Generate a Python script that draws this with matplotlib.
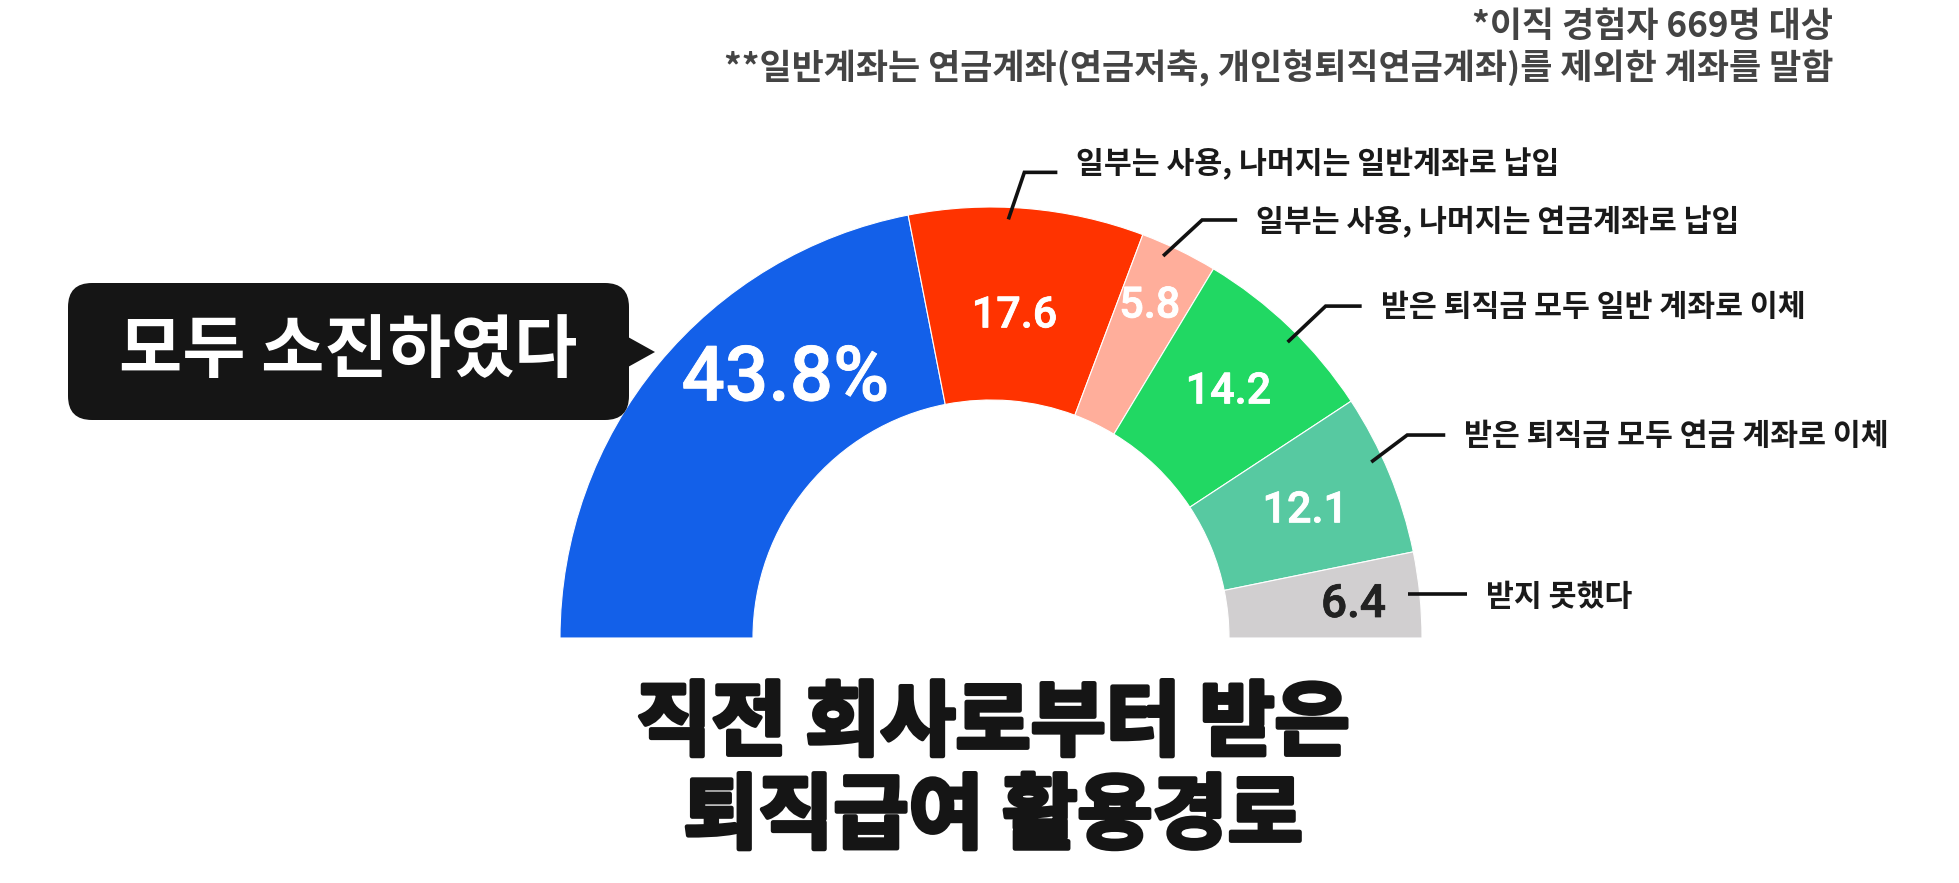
import matplotlib
matplotlib.use('Agg')
import matplotlib.pyplot as plt
import matplotlib.patheffects as pe
import numpy as np
from matplotlib.patches import FancyBboxPatch, Polygon

# ---------------- data ----------------
categories = ['모두 소진하였다',
              '일부는 사용, 나머지는 일반계좌로 납입',
              '일부는 사용, 나머지는 연금계좌로 납입',
              '받은 퇴직금 모두 일반 계좌로 이체',
              '받은 퇴직금 모두 연금 계좌로 이체',
              '받지 못했다']
values = [43.8, 17.6, 5.8, 14.2, 12.1, 6.4]
value_labels = ['43.8%', '17.6', '5.8', '14.2', '12.1', '6.4']
title_lines = ['직전 회사로부터 받은', '퇴직급여 활용경로']
notes = ['*이직 경험자 669명 대상',
         '**일반계좌는 연금계좌(연금저축, 개인형퇴직연금계좌)를 제외한 계좌를 말함']

# ---------------- style ----------------
colors = ['#1360E9', '#FF3300', '#FFAE9B', '#21D863', '#57C9A1', '#D1CFD0']
label_colors = ['white', 'white', 'white', 'white', 'white', '#222222']
KR = ['Noto Sans CJK KR', 'DejaVu Sans']
NUM = ['Roboto', 'DejaVu Sans']

W, H = 1959, 883
fig = plt.figure(figsize=(W / 100, H / 100), dpi=100)
ax = fig.add_axes([0, 0, 1, 1])

cx, cy = 991, H - 638
R, ring = 431, 193
total = sum(values)
wedges, _ = ax.pie(values + [total], colors=colors + ['none'], startangle=180,
                   counterclock=False, radius=R, center=(cx, cy),
                   wedgeprops=dict(width=ring, edgecolor='white', linewidth=0.8))
wedges[-1].set_visible(False)
wedges = wedges[:-1]
ax.set_xlim(0, W)
ax.set_ylim(0, H)
ax.set_aspect('equal')
ax.axis('off')

# value labels (placed around the mid-angle of each wedge)
label_r = [330, 323, 368, 342, 339, 364]
label_dang = [-12, 0.6, 0.3, -0.1, -0.4, -0.4]
label_size = [55, 31, 31, 31, 31, 33]
for w, lab, lr, da, fs, lc in zip(wedges, value_labels, label_r, label_dang, label_size, label_colors):
    mid = np.deg2rad((w.theta1 + w.theta2) / 2 + da)
    ax.text(cx + lr * np.cos(mid), cy + lr * np.sin(mid), lab, ha='center', va='center',
            color=lc, fontsize=fs, fontweight='medium', family=NUM,
            path_effects=[pe.withStroke(linewidth=0.6, foreground=lc)])

# leader lines + category labels for wedges 1..5
lead_dang = [None, 2.4, 1.6, -1.2, 2.4, 0.3]
elbows = [None, (16, 47), (39, 36), (38, 36), (36, 27), (0, 0)]
tails = [None, 33, 35, 36, 38, 59]
text_dy = [None, 9, -2, -1, -1, -3]
for i in range(1, 6):
    w = wedges[i]
    mid = np.deg2rad((w.theta1 + w.theta2) / 2 + lead_dang[i])
    rr = R - 12
    x0, y0 = cx + rr * np.cos(mid), cy + rr * np.sin(mid)
    ex, ey = elbows[i]
    x1, y1 = x0 + ex, y0 + ey
    x2 = x1 + tails[i]
    ax.plot([x0, x1, x2], [y0, y1, y1], color='#111111', lw=2.6,
            solid_capstyle='butt', solid_joinstyle='miter')
    ax.text(x2 + 19, y1 + text_dy[i], categories[i], ha='left', va='center',
            fontsize=21.8, fontweight='bold', color='#1a1a1a', family=KR)

# callout box for first category
bx0, bx1, by0, by1 = 68, 629, H - 420, H - 283
box = FancyBboxPatch((bx0, by0), bx1 - bx0, by1 - by0,
                     boxstyle='round,pad=0,rounding_size=24',
                     facecolor='#151515', edgecolor='none')
ax.add_patch(box)
ax.add_patch(Polygon([(bx1 - 1, H - 337), (655, H - 352), (bx1 - 1, H - 367)],
                     closed=True, facecolor='#151515', edgecolor='none'))
ax.text(348, H - 352, categories[0], ha='center', va='center',
        color='white', fontsize=49.5, fontweight='bold', family=KR)

# title
heavy = [pe.withStroke(linewidth=3.2, foreground='#151515')]
ax.text(993, H - 725, title_lines[0], ha='center', va='center', fontsize=58.8,
        fontweight='black', color='#151515', family=KR, path_effects=heavy)
ax.text(993, H - 818, title_lines[1], ha='center', va='center', fontsize=58.8,
        fontweight='black', color='#151515', family=KR, path_effects=heavy)

# notes
ax.text(1833, H - 27, notes[0], ha='right', va='center', fontsize=25.2,
        fontweight='bold', color='#444444', family=KR)
ax.text(1833, H - 68, notes[1], ha='right', va='center', fontsize=25.2,
        fontweight='bold', color='#444444', family=KR)

fig.savefig('out.png', dpi=100, facecolor='white')
